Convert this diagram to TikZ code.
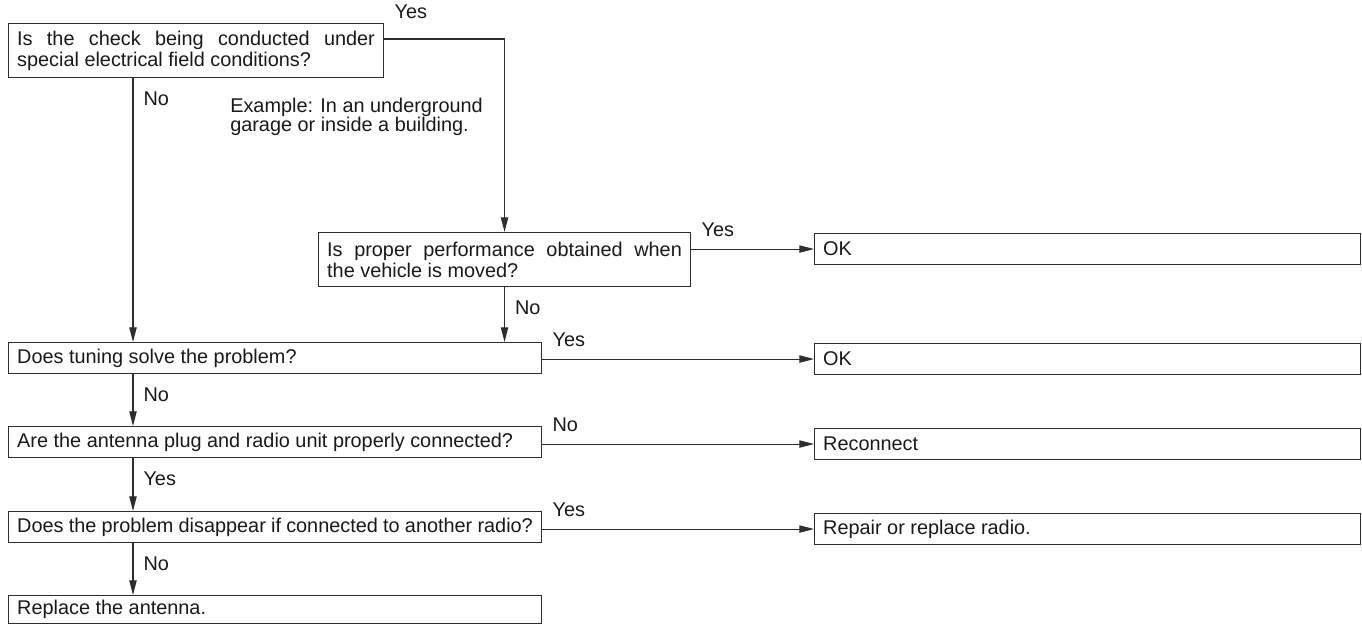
\documentclass[tikz,border=0pt]{standalone}
\usepackage{fontspec}
\setmainfont{Liberation Sans}
\usepackage{tikz}
\usetikzlibrary{arrows.meta}
\usepackage{xcolor}
\definecolor{linegray}{RGB}{45, 45, 45}
\definecolor{textdark}{RGB}{25, 25, 25}

\begin{document}
\begin{tikzpicture}[x=0.75pt, y=-0.75pt, >={Triangle[length=11pt, width=5.5pt]},
  box/.style={draw=linegray, line width=0.8pt, anchor=north west, inner xsep=6.5pt, inner ysep=1pt,
    align=justify, text=textdark, font=\fontsize{14.9}{15.75}\selectfont,
    execute at begin node={\tolerance=9999 \hyphenpenalty=10000 }},
  leftbox/.style={box, text width=386.75pt, minimum height=23.25pt},
  rightbox/.style={box, text width=396.5pt, minimum height=23.25pt},
  flow/.style={draw=linegray, line width=0.8pt},
  lbl/.style={text=textdark, font=\fontsize{14.9}{14.5}\selectfont, inner sep=0pt},
  sidelbl/.style={lbl, pos=0, anchor=south west, xshift=7.5pt, yshift=9pt},
  downlbl/.style={lbl, pos=0, anchor=north west, xshift=7.5pt, yshift=-9.75pt}]

  \useasboundingbox (0, 0) rectangle (1362, 624);

  % Questions
  \node[box, text width=268.25pt, minimum height=40.5pt] (q1) at (8, 23)
    {Is the check being conducted under\linebreak special electrical field conditions?};
  \node[lbl, anchor=north west, align=left] (example) at (230, 98)
    {Example: In an underground\\garage or inside a building.};
  \node[box, text width=266pt, minimum height=40.5pt] (q2) at (318, 232)
    {Is proper performance obtained when\linebreak the vehicle is moved?};
  \node[leftbox] (q3) at (8, 342) {Does tuning solve the problem?};
  \node[leftbox] (q4) at (8, 426) {Are the antenna plug and radio unit properly connected?};
  \node[leftbox] (q5) at (8, 511) {Does the problem disappear if connected to another radio?};
  \node[leftbox, minimum height=21pt] (q6) at (8, 595) {Replace the antenna.};

  % Results
  \node[rightbox] (ok1) at (814, 233) {OK};
  \node[rightbox] (ok2) at (814, 343) {OK};
  \node[rightbox] (recon) at (814, 428) {Reconnect};
  \node[rightbox] (repair) at (814, 513) {Repair or replace radio.};

  % Main line on the left
  \coordinate (spine) at (133, 0);
  \draw[flow, ->] (q1.south -| spine) -- node[downlbl] {No} (q3.north -| spine);
  \draw[flow, ->] (q3.south -| spine) -- node[downlbl] {No} (q4.north -| spine);
  \draw[flow, ->] (q4.south -| spine) -- node[downlbl] {Yes} (q5.north -| spine);
  \draw[flow, ->] (q5.south -| spine) -- node[downlbl] {No} (q6.north -| spine);

  % Special conditions branch
  \draw[flow, ->] ([yshift=-12pt]q1.north east) -| node[sidelbl, yshift=6pt] {Yes} (q2.north);
  \draw[flow, ->] (q2.south) -- node[downlbl] {No} (q2.south |- q3.north);

  % Branches to the right
  \draw[flow, ->] (q2.east |- ok1.west) -- node[sidelbl] {Yes} (ok1.west);
  \draw[flow, ->] (q3.east |- ok2.west) -- node[sidelbl] {Yes} (ok2.west);
  \draw[flow, ->] (q4.east |- recon.west) -- node[sidelbl] {No} (recon.west);
  \draw[flow, ->] (q5.east |- repair.west) -- node[sidelbl] {Yes} (repair.west);

\end{tikzpicture}
\end{document}
